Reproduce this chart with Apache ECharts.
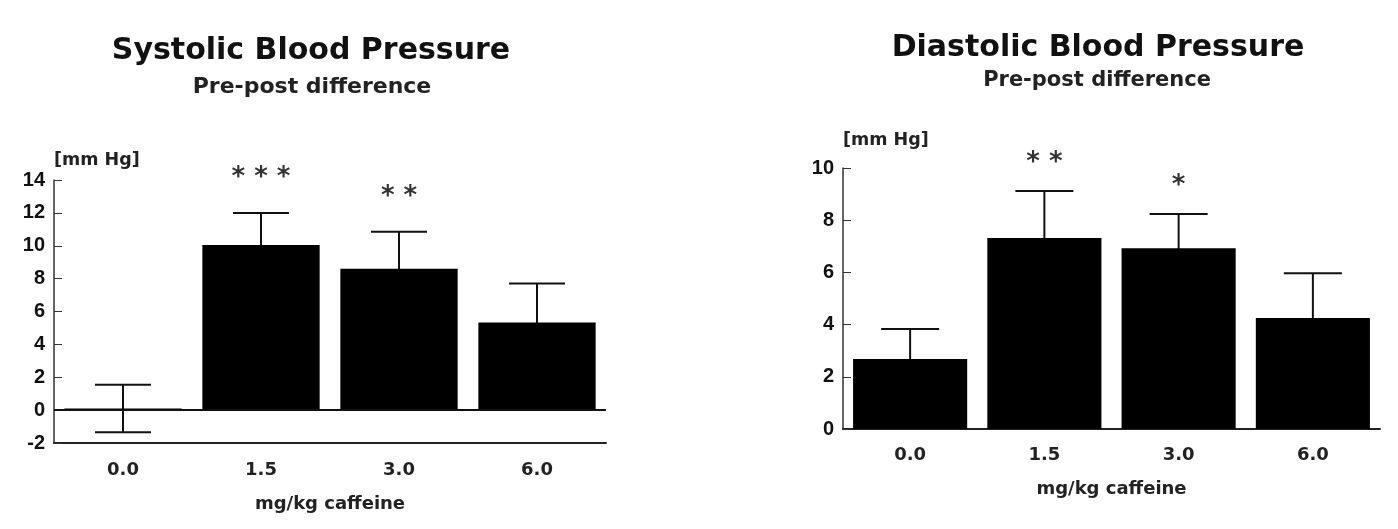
<!DOCTYPE html>
<html>
<head>
<meta charset="utf-8">
<script src="https://cdn.jsdelivr.net/npm/echarts@6/dist/echarts.min.js"></script>
<style>
html,body{margin:0;padding:0;background:#fff;}
#chart{width:1398px;height:529px;}
</style>
</head>
<body>
<div id="chart"></div>
<script>
// ---- data ----
const categories = ['0.0', '1.5', '3.0', '6.0'];
const systolicMean = [0.1, 10.05, 8.6, 5.33];
const systolicErr = [1.45, 1.95, 2.25, 2.37];
const systolicSig = ['', '***', '**', ''];
const diastolicMean = [2.68, 7.32, 6.93, 4.25];
const diastolicErr = [1.15, 1.8, 1.31, 1.72];
const diastolicSig = ['', '**', '*', ''];
const systolicTicks = { min: -2, max: 14, interval: 2 };
const diastolicTicks = { min: 0, max: 10, interval: 2 };

const WIDE = 'DejaVu Sans, sans-serif';
const NARROW = 'Liberation Sans, Arial, sans-serif';
const chart = echarts.init(document.getElementById('chart'));

function errSeries(mean, err, axisIdx, capW) {
  return {
    type: 'custom', xAxisIndex: axisIdx, yAxisIndex: axisIdx, z: 1,
    data: mean.map((m, i) => [i, m, err[i]]),
    encode: { x: 0, y: 1 },
    renderItem(params, api) {
      const i = api.value(0), m = api.value(1), e = api.value(2);
      const t = api.coord([i, m + e]);
      const b = api.coord([i, m - e]);
      const st = { stroke: '#111', lineWidth: 2 };
      return { type: 'group', children: [
        { type: 'line', shape: { x1: t[0], y1: t[1], x2: b[0], y2: b[1] }, style: st },
        { type: 'line', shape: { x1: t[0] - capW / 2, y1: t[1], x2: t[0] + capW / 2, y2: t[1] }, style: st },
        { type: 'line', shape: { x1: b[0] - capW / 2, y1: b[1], x2: b[0] + capW / 2, y2: b[1] }, style: st }
      ]};
    }
  };
}
function sigSeries(mean, err, sig, axisIdx, dist) {
  return {
    type: 'scatter', xAxisIndex: axisIdx, yAxisIndex: axisIdx, symbolSize: 0, z: 5,
    data: mean.map((m, i) => [i, m + err[i]]),
    label: { show: true, position: 'top', distance: dist,
      formatter: p => sig[p.dataIndex].split('').join(' '),
      color: '#000', fontSize: 26, fontWeight: 'bold', fontFamily: WIDE },
    silent: true
  };
}
function xAx(idx, margin, gap) {
  return {
    type: 'category', gridIndex: idx, data: categories,
    axisLine: { onZero: false, lineStyle: { color: '#222', width: 2 } },
    axisTick: { alignWithLabel: true, length: 4, lineStyle: { color: '#444' } },
    axisLabel: { color: '#222', fontSize: 18, fontWeight: 'bold', fontFamily: WIDE, margin: margin },
    name: 'mg/kg caffeine', nameLocation: 'middle', nameGap: gap,
    nameTextStyle: { color: '#222', fontSize: 18, fontWeight: 'bold', fontFamily: WIDE }
  };
}
function yAx(idx, t, gap) {
  return {
    type: 'value', gridIndex: idx, min: t.min, max: t.max, interval: t.interval,
    splitLine: { show: false },
    axisLine: { show: true, lineStyle: { color: '#333', width: 1.5 } },
    axisTick: { show: true, inside: true, length: 8, lineStyle: { color: '#333' } },
    axisLabel: { color: '#111', fontSize: 20, fontWeight: 'bold', fontFamily: NARROW, margin: 9 },
    name: '[mm Hg]', nameLocation: 'end', nameGap: gap,
    nameTextStyle: { color: '#222', fontSize: 17.5, fontWeight: 'bold', fontFamily: WIDE, align: 'left' }
  };
}

chart.setOption({
  backgroundColor: '#ffffff',
  animation: false,
  graphic: [
    { type: 'text', x: 311, y: 51, style: { text: 'Systolic Blood Pressure', textAlign: 'center', textVerticalAlign: 'middle', fontSize: 30, fontWeight: 'bold', fontFamily: WIDE, fill: '#111' } },
    { type: 'text', x: 312, y: 87, style: { text: 'Pre-post difference', textAlign: 'center', textVerticalAlign: 'middle', fontSize: 22, fontWeight: 'bold', fontFamily: WIDE, fill: '#222' } },
    { type: 'text', x: 1098, y: 48, style: { text: 'Diastolic Blood Pressure', textAlign: 'center', textVerticalAlign: 'middle', fontSize: 30, fontWeight: 'bold', fontFamily: WIDE, fill: '#111' } },
    { type: 'text', x: 1097, y: 81, style: { text: 'Pre-post difference', textAlign: 'center', textVerticalAlign: 'middle', fontSize: 21, fontWeight: 'bold', fontFamily: WIDE, fill: '#222' } }
  ],
  grid: [
    { left: 54, top: 180, width: 552, height: 263 },
    { left: 843, top: 168, width: 537, height: 261 }
  ],
  xAxis: [xAx(0, 18, 52), xAx(1, 17, 51)],
  yAxis: [yAx(0, systolicTicks, 11), yAx(1, diastolicTicks, 19)],
  series: [
    { type: 'bar', xAxisIndex: 0, yAxisIndex: 0, data: systolicMean, barCategoryGap: '15%', z: 2,
      itemStyle: { color: '#000' },
      markLine: { silent: true, symbol: 'none', label: { show: false },
        lineStyle: { color: '#111', width: 2, type: 'solid' }, data: [{ yAxis: 0 }] } },
    errSeries(systolicMean, systolicErr, 0, 56),
    sigSeries(systolicMean, systolicErr, systolicSig, 0, 22),
    { type: 'bar', xAxisIndex: 1, yAxisIndex: 1, data: diastolicMean, barCategoryGap: '15%', z: 2,
      itemStyle: { color: '#000' } },
    errSeries(diastolicMean, diastolicErr, 1, 58),
    sigSeries(diastolicMean, diastolicErr, diastolicSig, 1, 15)
  ]
});
</script>
</body>
</html>
